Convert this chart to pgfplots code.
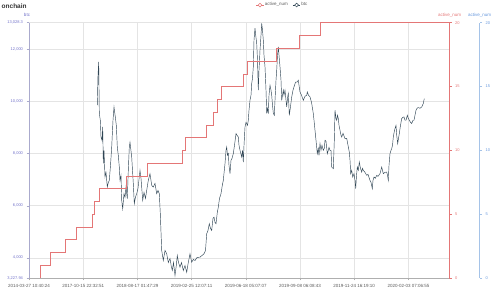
\documentclass[border=0pt]{standalone}
\usepackage{fontspec}
\setmainfont{Liberation Sans}
\usepackage{pgfplots}
\usepackage{pgfplotstable}
\pgfplotsset{compat=1.18}
\definecolor{btcline}{RGB}{47,69,84}
\definecolor{redc}{RGB}{228,118,118}
\definecolor{bluec}{RGB}{100,150,220}
\definecolor{blueline}{RGB}{165,195,232}
\definecolor{leftc}{RGB}{112,112,200}
\definecolor{leftline}{RGB}{170,170,205}
\definecolor{gridc}{RGB}{228,228,228}
\definecolor{axisgray}{RGB}{175,175,175}
\definecolor{labelgray}{RGB}{90,90,90}
\definecolor{titlec}{RGB}{50,50,50}

\pgfplotstableread{
x y
97.3 9858
98.0 11012
98.7 11523
99.3 9550
100.3 9281
101 8639
102 8512
102.7 9023
103.3 7627
104 8127
105 7100
106 7281
107.3 6716
108.3 6892
109.3 6973
110.5 7550
111.7 8254
113 9281
114 9793
115.3 9408
116.3 9089
117.3 8254
118.3 7935
119.3 7485
120 6973
121 7170
121.7 6204
122.7 5885
124 6462
125 6320
126 6716
127.3 6270
128.3 7358
129.3 8254
130 8435
131.7 7870
133.3 6846
134.3 6077
135.5 6331
136.7 6462
138 6666
140 7358
141 7050
142.7 6204
144 6512
145.5 6281
146.7 6589
148.3 6973
150 7230
151.7 6781
153.3 6716
155 6858
156.7 6462
158 6589
159.3 6462
160.3 5692
161.7 4282
163.3 3897
165 4282
166.7 4154
168.3 3820
170 3973
171.3 3666
172.3 3512
173.5 3820
175 3320
176.3 3705
177.3 4089
178.5 3820
180 3640
181.5 3820
183.3 3512
185 3705
186.7 3447
188.3 3820
190 4154
191.7 3832
193.3 3935
195 3897
197 4012
200 4024
202 4089
204 4154
205.5 4282
206.7 4923
208 5052
209.3 5308
210.5 5128
211.7 5050
213 5512
214 5562
215 5358
216 5308
217.3 5742
218.3 5946
219.5 6281
221 6462
222.3 6781
223.3 6973
224.3 7358
225 7616
226 8127
226.7 8254
227.5 7935
228.3 8000
229 7550
230 7230
231 7743
232 7819
233.3 8000
234.5 8319
236 8769
237 8704
238.3 8639
239 8319
240 8127
241 7973
241.7 7870
242.5 8127
243.3 7677
244 8319
245 9023
246 9204
246.7 9154
247.5 9089
248.3 9281
249 9665
250 10050
251 10242
251.7 10692
252.5 10896
253.3 11331
254 12358
255 12819
255.7 12550
256.7 12231
257.5 11588
258.3 10435
259 11204
260 11973
261 12550
261.7 13000
262.5 12742
263.3 12358
264 11781
265 11331
266 10435
266.7 9550
267.5 9742
268.3 9538
269 10242
270 10627
271 10435
271.7 10242
272.5 9858
273.3 9550
274.3 9473
275 10050
276 10819
276.7 11204
277.5 11781
278.3 12100
279 11781
280 11331
281 10819
281.7 10050
282.5 10242
283.3 10435
284 10242
285 10435
286 10050
286.7 9793
287.5 10127
288.3 10308
289.3 9473
290.3 9742
291.7 10177
293 10435
294 10562
295.5 10742
297.3 10754
298.3 10819
299 10627
300 10369
301.5 10242
303.3 10050
305 10204
306.7 10242
307.3 10369
308.5 10242
310 10177
311.5 9973
313.3 9539
314 9281
315 8896
316 8512
317.3 8000
318.3 8204
319 7935
320 8385
321 8127
322 8319
323.3 8127
324.3 8204
325 8512
326 8473
327.3 8000
328.3 8127
329 8242
330 8127
331 8127
331.7 7485
333.3 7423
334.3 8512
335 9666
336 9358
336.7 9281
337.5 9473
338.3 9346
339 9089
340 8896
341 8704
341.7 8639
343 8781
345 8577
346.7 8589
348 8319
349.3 8062
350 7743
350.7 7231
351.7 7358
352.7 7100
354 7231
355 6973
355.7 6654
356.5 7166
357.3 7485
358.3 7358
359.3 7677
360.5 7435
361.7 7292
362.5 7435
363.3 7358
365 7281
366.7 7166
368 7204
370 6973
371 6896
372.3 6654
373 6973
374 7100
375.3 7050
376.7 7166
378 7127
380 7231
381.7 7485
382.5 7358
383.3 7231
385 7281
386.7 7292
387.5 7166
388.3 6973
389 7550
390 8000
391 8127
391.7 8192
392.5 8319
393.3 8639
394.5 8896
396 9089
396.7 8704
397.7 8385
398.5 8589
399.3 8769
400.5 9089
401.7 9346
403 9396
404 9408
405 9281
406 9281
407.3 9473
408.3 9358
409.3 9281
410.5 9204
411.7 9154
413 9281
414 9281
415 9473
416 9666
417 9742
418.3 9769
420 9742
421.7 9793
423.3 9923
424.3 10115
}\btcdata

\pgfplotstableread{
x y
29 0
40 1
50 2
65 3
76 4
92.7 5
94 6
99.5 7
126 8
147.7 9
182.3 10
185 11
206 12
213 13
217.3 14
221.7 15
243.7 16
247 17
276.5 18
299 19
320 20
449 20
}\activedata

\begin{document}
\begin{tikzpicture}
\path[use as bounding box] (0,0) rectangle (500pt,288pt);
\node[anchor=west, font=\fontsize{6.5}{7}\selectfont\bfseries, text=titlec, inner sep=0pt] at (1.5pt,282pt) {onchain};

\begin{axis}[
  at={(29pt,10.1pt)}, anchor=south west, scale only axis,
  width=420pt, height=255.2pt,
  xmin=29, xmax=449, ymin=3227.94, ymax=13028.3,
  scaled y ticks=false, scaled x ticks=false,
  axis x line*=bottom, axis y line*=left,
  x axis line style={draw=axisgray, -},
  y axis line style={draw=leftline, -},
  xmajorgrids, ymajorgrids,
  grid style={draw=gridc, line width=0.5pt},
  tick align=outside, major tick length=2.5pt,
  xtick style={draw=axisgray, line width=0.4pt},
  ytick style={draw=leftline, line width=0.4pt},
  xtick={29,83.2,137.4,191.6,245.8,300,354.2,408.4},
  xticklabels={2014-03-27 10:40:24,2017-10-15 22:32:51,2018-08-17 01:47:29,2019-02-25 12:07:11,2019-06-18 05:07:07,2019-09-08 06:08:43,2019-11-24 16:19:10,2020-02-03 07:06:55},
  ytick={3227.94,4000,6000,8000,10000,12000,13028.3},
  yticklabels={{3,227.94},{4,000},{6,000},{8,000},{10,000},{12,000},{13,028.3}},
  xticklabel style={font=\fontsize{4.5}{5}\selectfont, text=labelgray},
  yticklabel style={font=\fontsize{4}{5}\selectfont, text=leftc},
]
\addplot[btcline, line width=0.45pt] table[x=x,y=y]{\btcdata};
\end{axis}

\begin{axis}[
  at={(29pt,10.1pt)}, anchor=south west, scale only axis,
  width=420pt, height=255.2pt,
  xmin=29, xmax=449, ymin=0, ymax=20,
  axis y line*=right, axis x line=none,
  y axis line style={draw=redc, -, line width=0.5pt},
  tick align=outside, major tick length=2.5pt,
  ytick style={draw=redc, line width=0.4pt},
  ytick={0,5,10,15,20}, yticklabels={0,5,10,15,20},
  yticklabel style={font=\fontsize{4}{5}\selectfont, text=redc},
  legend style={at={(0.540,1.069)}, anchor=west, draw=none, fill=none,
    font=\fontsize{4.5}{5}\selectfont, text=labelgray, inner sep=0pt,
    nodes={inner sep=0.8pt},
    /tikz/every even column/.append style={column sep=4pt}},
  legend columns=2,
  legend image code/.code={\draw[#1, line width=0.5pt] (0pt,0pt) -- (7.5pt,0pt);
     \draw[#1, line width=0.5pt, fill=white] (3.75pt,0pt) circle (1.9pt);},
]
\addplot[redc, line width=0.45pt, const plot, forget plot] table[x=x,y=y]{\activedata};
\addlegendimage{redc}
\addlegendentry{active\_num}
\addlegendimage{btcline}
\addlegendentry{btc}
\end{axis}

\begin{axis}[
  at={(449pt,10.1pt)}, anchor=south west, scale only axis,
  width=30.7pt, height=255.2pt,
  xmin=0, xmax=1, ymin=0, ymax=20,
  axis y line*=right, axis x line=none,
  y axis line style={draw=blueline, -, line width=0.5pt},
  tick align=outside, major tick length=2.5pt,
  ytick style={draw=blueline, line width=0.4pt},
  ytick={0,5,10,15,20}, yticklabels={0,5,10,15,20},
  yticklabel style={font=\fontsize{4}{5}\selectfont, text=bluec},
]
\addplot[draw=none, forget plot] coordinates {(0,0)};
\end{axis}

\node[font=\fontsize{4.5}{5}\selectfont, text=leftc, inner sep=0pt] at (27pt,273pt) {btc};
\node[font=\fontsize{4.5}{5}\selectfont, text=redc, inner sep=0pt] at (449.5pt,273pt) {active\_num};
\node[font=\fontsize{4.5}{5}\selectfont, text=bluec, inner sep=0pt] at (479.5pt,273pt) {active\_num};
\end{tikzpicture}
\end{document}
